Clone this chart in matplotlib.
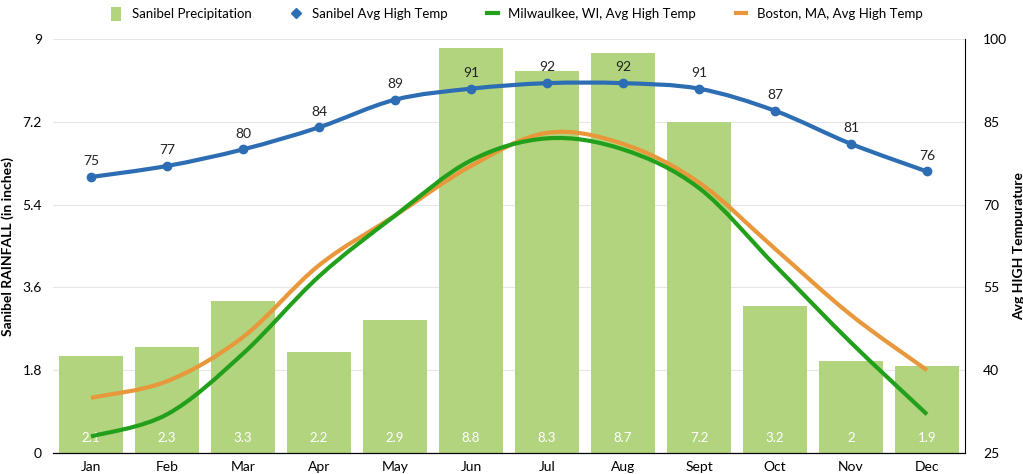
import numpy as np
import matplotlib.pyplot as plt
from matplotlib.path import Path
from matplotlib.patches import PathPatch
from matplotlib.lines import Line2D
from matplotlib.patches import Patch

plt.rcParams["font.family"] = ["Lato", "DejaVu Sans"]

months = ["Jan", "Feb", "Mar", "Apr", "May", "Jun", "Jul", "Aug", "Sept", "Oct", "Nov", "Dec"]
rainfall = [2.1, 2.3, 3.3, 2.2, 2.9, 8.8, 8.3, 8.7, 7.2, 3.2, 2, 1.9]
sanibel_high = [75, 77, 80, 84, 89, 91, 92, 92, 91, 87, 81, 76]
milwaukee_high = [28, 32, 43, 57, 68, 78, 82, 80, 73, 59, 45, 32]
boston_high = [35, 38, 46, 59, 68, 77, 83, 81, 74, 62, 50, 40]

bar_color = "#b2d47e"
blue = "#2d6db4"
green = "#22a01c"
orange = "#e8973a"


def smooth_path(xs, ys, tension=0.5):
    # catmull-rom -> cubic bezier, drawn by matplotlib in data coords
    xs = np.asarray(xs, float)
    ys = np.asarray(ys, float)
    verts = [(xs[0], ys[0])]
    codes = [Path.MOVETO]
    n = len(xs)
    for i in range(n - 1):
        x0, y0 = (xs[i - 1], ys[i - 1]) if i > 0 else (xs[i], ys[i])
        x1, y1 = xs[i], ys[i]
        x2, y2 = xs[i + 1], ys[i + 1]
        x3, y3 = (xs[i + 2], ys[i + 2]) if i + 2 < n else (x2, y2)
        c1 = (x1 + (x2 - x0) * tension / 3, y1 + (y2 - y0) * tension / 3)
        c2 = (x2 - (x3 - x1) * tension / 3, y2 - (y3 - y1) * tension / 3)
        verts += [c1, c2, (x2, y2)]
        codes += [Path.CURVE4] * 3
    return Path(verts, codes)


fig = plt.figure(figsize=(10.23, 4.74), dpi=100)
ax = fig.add_axes([0.0518, 0.0443, 0.8915, 0.8734])
ax2 = ax.twinx()

x = np.arange(len(months))
bars = ax.bar(x, rainfall, width=0.83, color=bar_color, zorder=2)
for xi, v in zip(x, rainfall):
    ax.text(xi, 0.2, f"{v:g}", ha="center", va="bottom", color="white", fontsize=9.5, zorder=3)

ax.set_xlim(-0.5, 11.5)
ax.set_ylim(0, 9)
ax.set_yticks([0, 1.8, 3.6, 5.4, 7.2, 9])
ax.set_yticklabels(["0", "1.8", "3.6", "5.4", "7.2", "9"])
ax.grid(axis="y", color="#e6e6e6", linewidth=0.8, zorder=0)
ax.set_axisbelow(True)
ax.set_xticks(x)
ax.set_xticklabels(months)
ax.tick_params(axis="x", length=0, pad=6, labelsize=10)
ax.tick_params(axis="y", length=0, pad=8, labelsize=10)
ax.set_ylabel("Sanibel RAINFALL (in inches)", fontweight="bold", fontsize=10, labelpad=6)

ax2.set_ylim(25, 100)
ax2.set_yticks([25, 40, 55, 70, 85, 100])
ax2.tick_params(axis="y", length=0, pad=13, labelsize=10)
ax2.set_ylabel("Avg HIGH Tempurature", fontweight="bold", fontsize=10, labelpad=4)

for a in (ax, ax2):
    a.spines["top"].set_visible(False)
    a.spines["left"].set_visible(False)
    a.spines["right"].set_visible(False)
    a.spines["bottom"].set_color("black")
ax2.spines["right"].set_visible(True)
ax2.spines["right"].set_color("black")

for data, col in [(boston_high, orange), (milwaukee_high, green)]:
    ax2.add_patch(PathPatch(smooth_path(x, data), fill=False, edgecolor=col, linewidth=3, zorder=4))

ax2.add_patch(PathPatch(smooth_path(x, sanibel_high), fill=False, edgecolor=blue, linewidth=3, zorder=5))
ax2.plot(x, sanibel_high, "o", color=blue, markersize=6, zorder=6)
for xi, v in zip(x, sanibel_high):
    ax2.annotate(str(v), (xi, v), xytext=(0, 7), textcoords="offset points",
                 ha="center", va="bottom", fontsize=10, color="#222222")

handles = [
    Patch(facecolor=bar_color, edgecolor="none"),
    Line2D([], [], marker="D", linestyle="none", color=blue, markersize=5),
    Line2D([], [], color=green, linewidth=3),
    Line2D([], [], color=orange, linewidth=3),
]
labels = ["Sanibel Precipitation", "Sanibel Avg High Temp",
          "Milwaulkee, WI, Avg High Temp", "Boston, MA, Avg High Temp"]
fig.legend(handles, labels, loc="upper center", bbox_to_anchor=(0.505, 1.01), ncol=4,
           frameon=False, fontsize=9.5, handlelength=0.8, handleheight=1.2, columnspacing=3.0,
           handletextpad=0.8)

fig.savefig("out.png", dpi=100)
